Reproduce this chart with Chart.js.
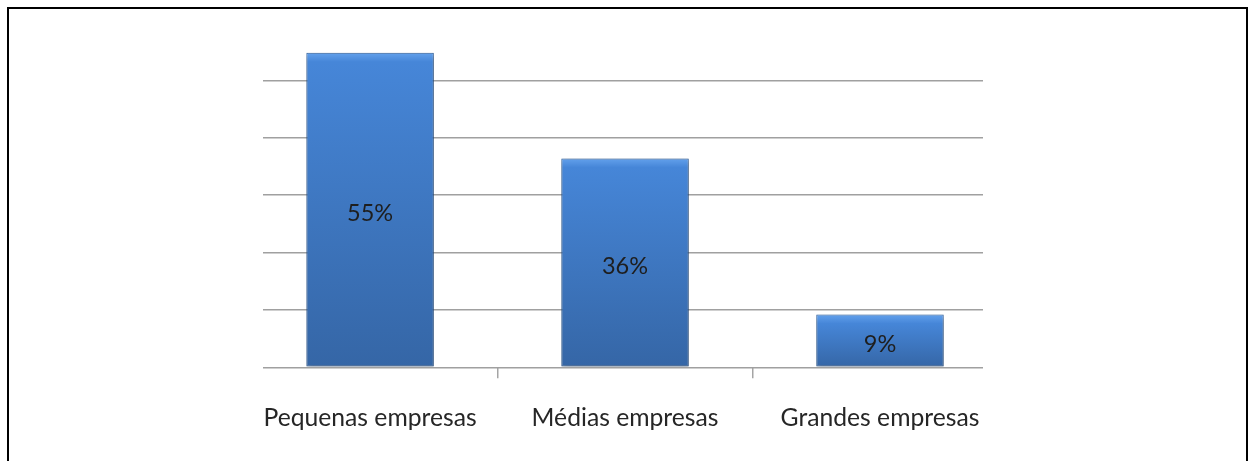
<!DOCTYPE html>
<html>
<head>
<meta charset="utf-8">
<script src="https://cdn.jsdelivr.net/npm/chart.js@4.4.1/dist/chart.umd.min.js"></script>
<style>
    html, body { margin: 0; padding: 0; background: #fff; overflow: hidden; }
    #frame {
        position: absolute; left: 7px; top: 7px;
        width: 1237px; height: 480px;
        border: 2px solid #000;
        pointer-events: none;
    }
    #chart { position: absolute; left: 0; top: 0; }
</style>
</head>
<body>
<canvas id="chart" width="1248" height="461"></canvas>
<div id="frame"></div>
<script>
var categories = ['Pequenas empresas', 'Médias empresas', 'Grandes empresas'];
var values = [54.8, 36.4, 9.2];
var yTicks = [0, 10, 20, 30, 40, 50, 60];

// gradiente por barra (claro no topo, mais escuro na base)
function barGradient(context) {
    var chart = context.chart;
    if (!chart.chartArea || !chart.scales.y) {
        return '#4282d4';
    }
    var y = chart.scales.y;
    var top = y.getPixelForValue(context.raw.y);
    var base = y.getPixelForValue(0);
    var h = Math.max(base - top, 1);
    var g = chart.ctx.createLinearGradient(0, top, 0, base);
    var band = Math.min(0.5, 9 / h);
    g.addColorStop(0, '#63a1ec');
    g.addColorStop(band, '#4686d8');
    g.addColorStop(1, '#3566a6');
    return g;
}

var barLabels = {
    id: 'barLabels',
    beforeDatasetDraw: function(chart) {
        var ctx = chart.ctx;
        ctx.save();
        ctx.shadowColor = 'rgba(0,0,0,0.35)';
        ctx.shadowBlur = 5;
        ctx.shadowOffsetX = 1;
        ctx.shadowOffsetY = 2;
    },
    afterDatasetDraw: function(chart) {
        chart.ctx.restore();
    },
    afterDatasetsDraw: function(chart) {
        var ctx = chart.ctx;
        var meta = chart.getDatasetMeta(0);
        ctx.save();
        ctx.font = '23.5px Lato';
        ctx.fillStyle = '#1e1e1e';
        ctx.textAlign = 'center';
        ctx.textBaseline = 'middle';
        meta.data.forEach(function(bar, i) {
            ctx.fillText(Math.round(values[i]) + '%', bar.x, (bar.y + bar.base) / 2 + 4);
        });
        ctx.restore();
    }
};

var ctx = document.getElementById('chart').getContext('2d');
var chart = new Chart(ctx, {
    type: 'bar',
    data: {
        datasets: [{
            data: values.map((v, i) => ({ x: i, y: v })),
            backgroundColor: barGradient,
            borderColor: '#2f5f9c',
            borderWidth: 1,
            borderSkipped: false,
            categoryPercentage: 1,
            barPercentage: 0.5
        }]
    },
    options: {
        responsive: false,
        devicePixelRatio: 1,
        animation: false,
        layout: {
            padding: { left: 263, right: 265, top: 23, bottom: 3 }
        },
        plugins: {
            legend: { display: false },
            tooltip: { enabled: false }
        },
        scales: {
            x: {
                type: 'linear',
                offset: false,
                min: -0.42,
                max: 2.404,
                afterBuildTicks: function(scale) {
                    scale.ticks = categories.map((_, i) => ({ value: i }));
                },
                border: { display: false },
                grid: {
                    offset: true,
                    drawOnChartArea: false,
                    tickLength: 11,
                    color: '#a5a5a5',
                    lineWidth: 1.5
                },
                ticks: {
                    padding: 25,
                    color: '#262626',
                    font: { family: 'Lato', size: 24.7 },
                    maxRotation: 0,
                    autoSkip: false,
                    callback: function(v) { return categories[v]; }
                }
            },
            y: {
                min: 0,
                max: 60,
                afterBuildTicks: function(scale) {
                    scale.ticks = yTicks.map(v => ({ value: v }));
                },
                border: { display: false },
                grid: {
                    drawTicks: false,
                    lineWidth: 1.5,
                    color: function(c) {
                        return c.tick && c.tick.value === 60 ? 'rgba(0,0,0,0)' : '#a0a0a0';
                    }
                },
                ticks: { display: false }
            }
        }
    },
    plugins: [barLabels]
});
</script>
</body>
</html>
